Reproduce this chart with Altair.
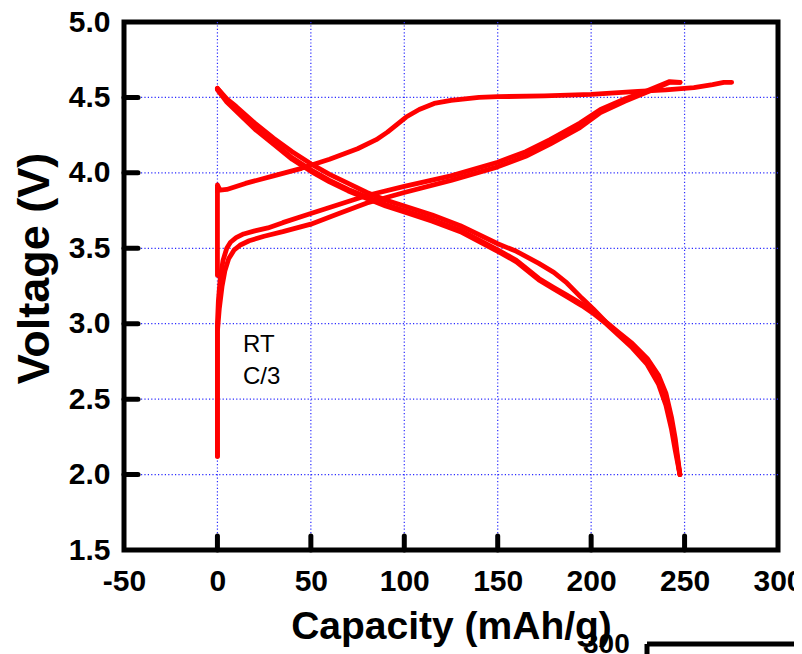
import altair as alt
import pandas as pd

# ---------------- data ----------------
# first charge
c1_x = [0, 0, 1.4, 5, 15, 30, 45, 60, 75, 85, 91, 96, 101, 108, 116, 125, 140, 150, 175, 200, 225, 240, 255, 265, 271, 275.2]
c1_v = [3.32, 3.92, 3.885, 3.89, 3.93, 3.98, 4.03, 4.09, 4.16, 4.22, 4.27, 4.32, 4.37, 4.42, 4.46, 4.48, 4.50, 4.505, 4.51, 4.52, 4.54, 4.55, 4.565, 4.585, 4.60, 4.60]

# later charges
c2_x = [0, 0, 0.5, 1.5, 3, 5, 7, 10, 14, 20, 27, 35, 50, 65, 80, 100, 125, 150, 165, 178, 194, 205, 218, 230, 242, 247.6]
c2_v = [2.12, 3.00, 3.15, 3.30, 3.42, 3.50, 3.54, 3.57, 3.595, 3.615, 3.635, 3.67, 3.73, 3.79, 3.85, 3.91, 3.98, 4.07, 4.14, 4.22, 4.33, 4.42, 4.49, 4.545, 4.605, 4.60]
c3_x = [0, 0, 1, 2.5, 4, 6, 9, 12, 17, 25, 35, 50, 65, 80, 100, 125, 150, 165, 178, 194, 205, 218, 230, 242, 247.6]
c3_v = [2.12, 2.95, 3.10, 3.25, 3.35, 3.43, 3.49, 3.52, 3.55, 3.58, 3.61, 3.66, 3.73, 3.80, 3.87, 3.95, 4.04, 4.11, 4.19, 4.30, 4.40, 4.475, 4.535, 4.60, 4.60]

# discharges
d_x = [0, 5, 10, 20, 30, 40, 50, 60, 70, 80, 90, 100, 115, 130, 150, 160, 172, 180, 187, 195, 201, 208, 215, 222, 230, 236, 240, 243, 245, 247.5]
d1_v = [4.56, 4.49, 4.44, 4.33, 4.23, 4.14, 4.06, 3.99, 3.93, 3.87, 3.82, 3.78, 3.72, 3.65, 3.53, 3.48, 3.40, 3.34, 3.27, 3.17, 3.10, 3.01, 2.93, 2.85, 2.75, 2.63, 2.50, 2.34, 2.20, 2.00]
d2_v = [4.56, 4.48, 4.42, 4.30, 4.20, 4.10, 4.02, 3.95, 3.89, 3.84, 3.79, 3.75, 3.69, 3.62, 3.49, 3.42, 3.30, 3.24, 3.19, 3.13, 3.08, 3.01, 2.94, 2.87, 2.77, 2.66, 2.54, 2.38, 2.24, 2.00]
d3_v = [4.55, 4.47, 4.41, 4.29, 4.19, 4.09, 4.01, 3.94, 3.88, 3.83, 3.78, 3.74, 3.68, 3.61, 3.48, 3.41, 3.29, 3.23, 3.18, 3.12, 3.07, 3.00, 2.92, 2.84, 2.73, 2.60, 2.46, 2.30, 2.16, 2.00]

x_ticks = [-50, 0, 50, 100, 150, 200, 250, 300]
y_ticks = [1.5, 2.0, 2.5, 3.0, 3.5, 4.0, 4.5, 5.0]
grid_x = [0, 50, 100, 150, 200, 250]
grid_y = [2.0, 2.5, 3.0, 3.5, 4.0, 4.5]

ann_x = [13.7, 13.7]
ann_v = [2.81, 2.60]
ann_t = ["RT", "C/3"]

# ---------------- tables ----------------
series = [
    ("charge1", c1_x, c1_v),
    ("discharge1", d_x, d1_v),
    ("charge2", c2_x, c2_v),
    ("discharge2", d_x, d2_v),
    ("charge3", c3_x, c3_v),
    ("discharge3", d_x, d3_v),
]
rows = []
for name, xs, vs in series:
    for i, (x, v) in enumerate(zip(xs, vs)):
        rows.append({"series": name, "order": i, "capacity": x, "voltage": v})
df = pd.DataFrame(rows)

W, H = 654, 528
FONT = "Liberation Sans"

xscale = alt.Scale(domain=[-50, 300], nice=False, zero=False)
yscale = alt.Scale(domain=[1.5, 5.0], nice=False, zero=False)

xaxis = alt.Axis(
    title="Capacity (mAh/g)", values=x_ticks, labelExpr="datum.value + ''",
    domain=False, ticks=False, grid=False, labelFlush=False, labelOverlap=False,
    labelFont=FONT, labelFontWeight="bold", labelFontSize=30, labelColor="black",
    labelPadding=16, titleFont=FONT, titleFontWeight="bold", titleFontSize=39,
    titleColor="black", titlePadding=11,
)
yaxis = alt.Axis(
    title="Voltage (V)", values=y_ticks, format=".1f",
    domain=False, ticks=False, grid=False, labelFlush=False, labelOverlap=False,
    labelFont=FONT, labelFontWeight="bold", labelFontSize=30, labelColor="black",
    labelPadding=14, titleFont=FONT, titleFontWeight="bold", titleFontSize=45,
    titleColor="black", titleAngle=270, titleAlign="center", titleBaseline="alphabetic",
    titleX=-76, titleY=246,
)

X = alt.X("capacity:Q", scale=xscale, axis=xaxis)
Y = alt.Y("voltage:Q", scale=yscale, axis=yaxis)

GRID = "#2a2aff"
gridx = alt.Chart(pd.DataFrame({"capacity": grid_x})).mark_rule(
    color=GRID, strokeWidth=1.2, strokeDash=[1.2, 2.2]
).encode(x=X)
gridy = alt.Chart(pd.DataFrame({"voltage": grid_y})).mark_rule(
    color=GRID, strokeWidth=1.2, strokeDash=[1.2, 2.2]
).encode(y=Y)

lines = alt.Chart(df).mark_line(
    color="#ff0000", strokeWidth=4.8, strokeCap="round", strokeJoin="round"
).encode(x=X, y=Y, detail="series:N", order="order:Q")

tickx = alt.Chart(pd.DataFrame({"capacity": grid_x})).mark_rule(
    color="black", strokeWidth=5, strokeCap="round"
).encode(x=X, y=alt.value(H), y2=alt.value(H - 14))
ticky = alt.Chart(pd.DataFrame({"voltage": grid_y})).mark_rule(
    color="black", strokeWidth=5, strokeCap="round"
).encode(y=Y, x=alt.value(0), x2=alt.value(14))

ann = alt.Chart(pd.DataFrame({"capacity": ann_x, "voltage": ann_v, "t": ann_t})).mark_text(
    align="left", baseline="alphabetic", font=FONT, fontSize=24, color="black"
).encode(x=X, y=Y, text="t:N")

# fragment of a neighbouring figure cut into the picture (bottom right)
frag_txt = alt.Chart(pd.DataFrame({"t": ["300"]})).mark_text(
    align="left", baseline="alphabetic", font=FONT, fontSize=28, fontWeight="bold", color="black"
).encode(text="t:N", x=alt.value(459), y=alt.value(631))
frag_h = alt.Chart(pd.DataFrame({"t": ["a"]})).mark_rule(color="black", strokeWidth=5).encode(
    x=alt.value(523), x2=alt.value(700), y=alt.value(622))
frag_v = alt.Chart(pd.DataFrame({"t": ["a"]})).mark_rule(color="black", strokeWidth=5).encode(
    x=alt.value(523), y=alt.value(622), y2=alt.value(650))

chart = alt.layer(gridx, gridy, lines, tickx, ticky, ann, frag_txt, frag_h, frag_v).properties(
    width=W, height=H,
    autosize=alt.AutoSizeParams(type="none"),
    padding={"left": 116, "top": 14, "right": 16, "bottom": 104},
).configure_view(stroke="black", strokeWidth=5)

chart.save("out.html", embed_options={"renderer": "svg", "actions": False})
